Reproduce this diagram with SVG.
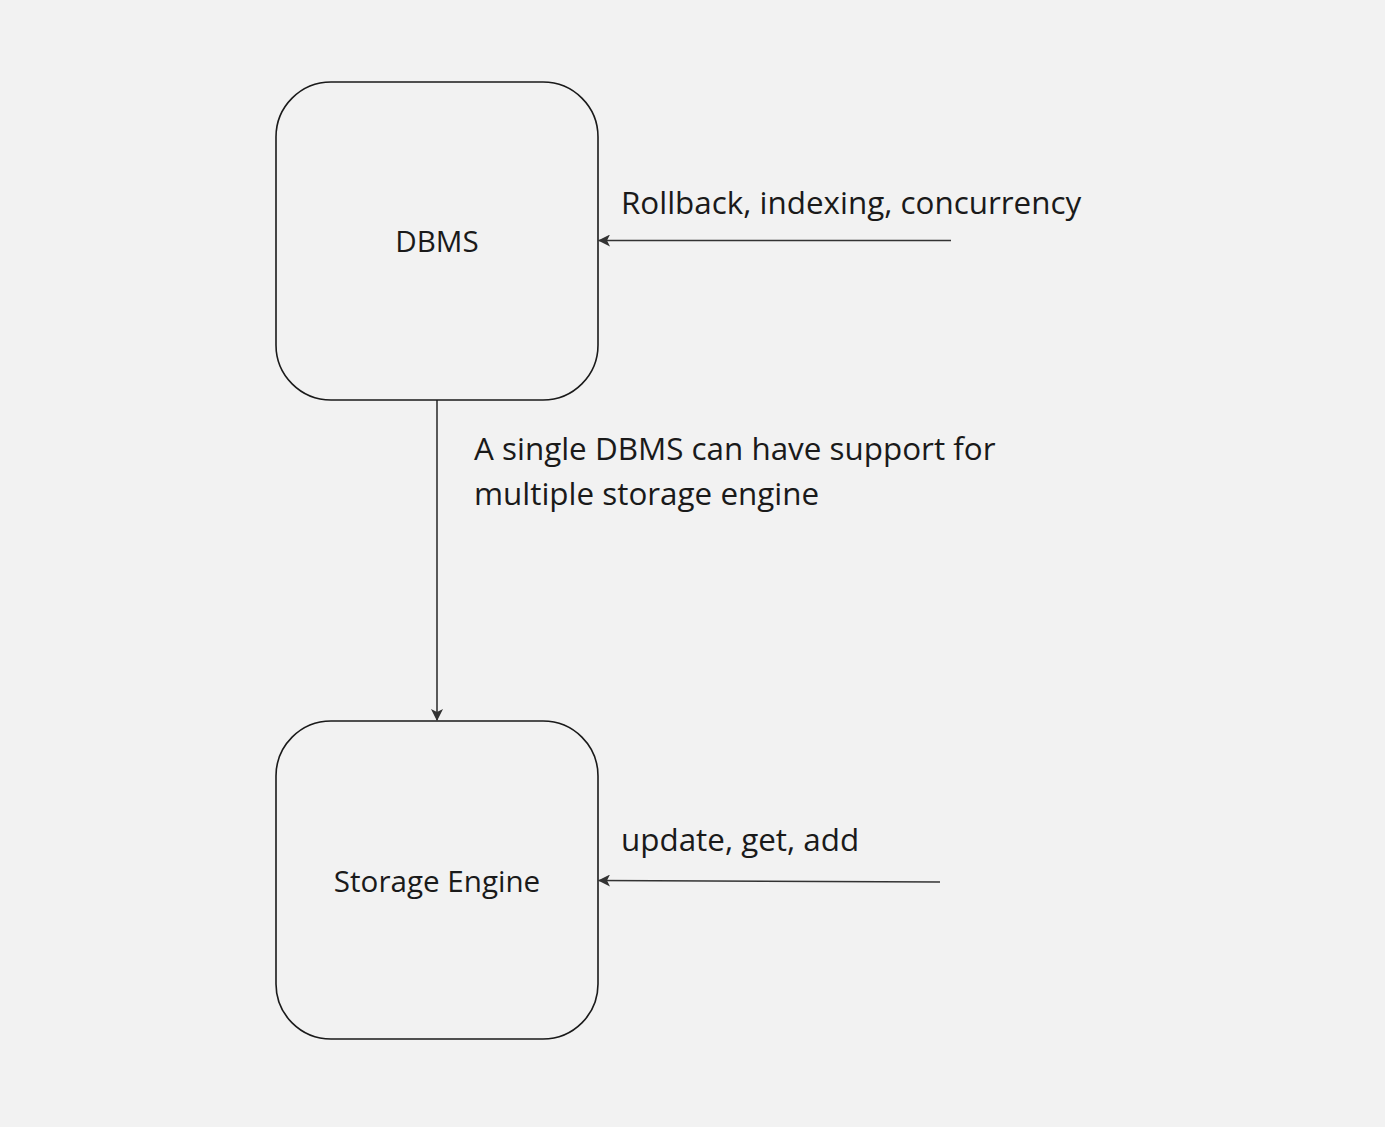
<svg xmlns="http://www.w3.org/2000/svg" width="1385" height="1127" viewBox="0 0 1385 1127">
<style>
.node{fill:none;stroke:#1a1a1a;stroke-width:1.6}
.lbl{font-family:"Open Sans","Noto Sans",sans-serif;fill:#1a1a1a}
.el{font-size:31.4px}
.nl{font-size:29.6px}
.edge{fill:none;stroke:#333333;stroke-width:1.6}
</style>
<defs>
<marker id="ah" viewBox="0 0 12 12" refX="11" refY="6" markerWidth="12" markerHeight="12" markerUnits="userSpaceOnUse" orient="auto">
<path d="M0,0 L12,6 L0,12 L3,6 Z" fill="#333333"/>
</marker>
</defs>
<rect width="1385" height="1127" fill="#f2f2f2"/>
<g id="connectors">
<line class="edge" x1="437" y1="400" x2="437" y2="720" marker-end="url(#ah)"/>
<line class="edge" x1="951" y1="240.5" x2="599" y2="240.5" marker-end="url(#ah)"/>
<line class="edge" x1="940" y1="882" x2="599" y2="880.5" marker-end="url(#ah)"/>
<text class="lbl el" x="621" y="214">Rollback, indexing, concurrency</text>
<text class="lbl el" x="474" y="460">A single DBMS can have support for</text>
<text class="lbl el" x="474" y="505">multiple storage engine</text>
<text class="lbl el" x="621" y="851">update, get, add</text>
</g>
<g id="dbms">
<rect class="node" x="276" y="82" width="322" height="318" rx="55" ry="55"/>
<text class="lbl nl" x="437" y="252" text-anchor="middle">DBMS</text>
</g>
<g id="storage-engine">
<rect class="node" x="276" y="721" width="322" height="318" rx="55" ry="55"/>
<text class="lbl nl" x="437" y="892" text-anchor="middle">Storage Engine</text>
</g>
</svg>
